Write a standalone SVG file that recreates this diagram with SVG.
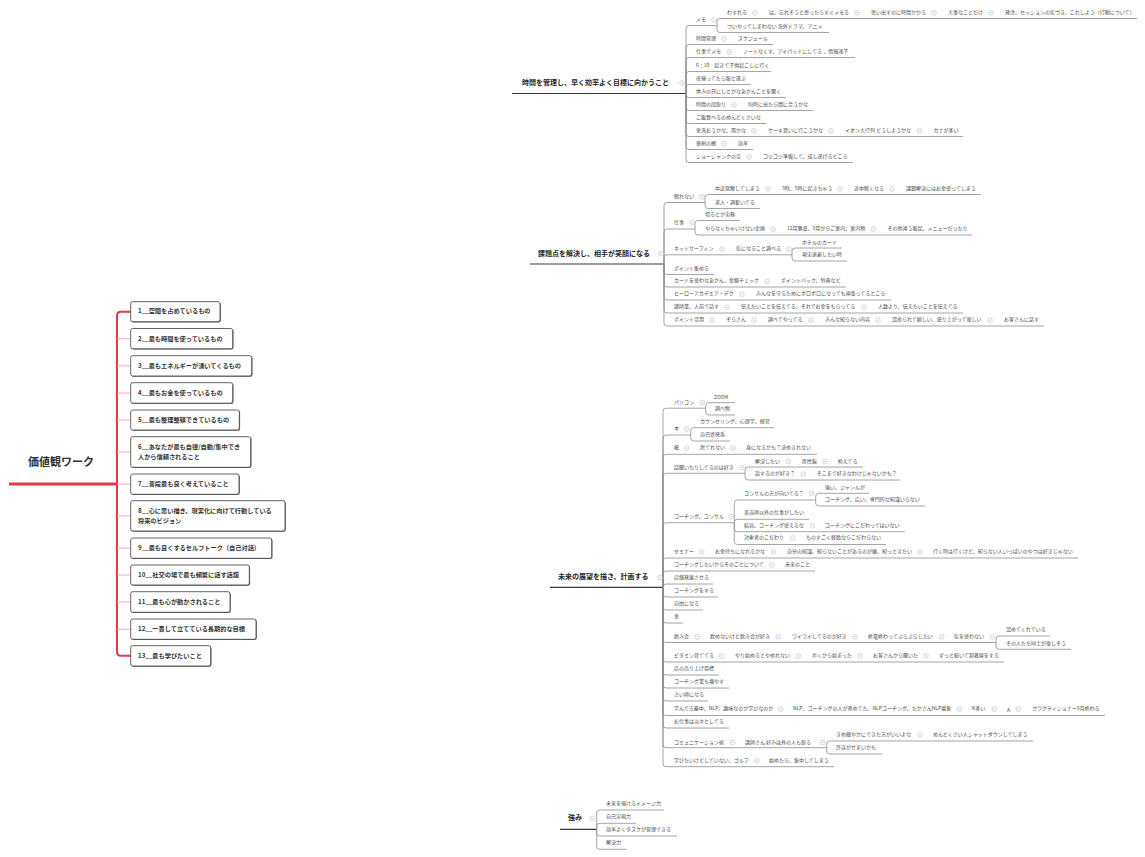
<svg xmlns="http://www.w3.org/2000/svg" width="1145" height="857" viewBox="0 0 1145 857">
<style>
.t{font-family:"Noto Sans CJK JP","Noto Sans",sans-serif;font-size:5px;fill:#4a4a4a}
.r{font-family:"Noto Sans CJK JP","Noto Sans",sans-serif;font-size:7px;font-weight:bold;fill:#262626}
.k{font-family:"Noto Sans CJK JP","Noto Sans",sans-serif;font-size:6.2px;font-weight:bold;fill:#333}
.h{font-family:"Noto Sans CJK JP","Noto Sans",sans-serif;font-size:11px;font-weight:bold;fill:#333}
.ln{fill:none;stroke:#8e8e8e;stroke-width:0.8}
.rl{fill:none;stroke:#3a3a3a;stroke-width:1.2}
.red{fill:none;stroke:#e8364e}
.pk{fill:none;stroke:#f3a2ad;stroke-width:0.9}
.box{fill:#fff;stroke:#3c3c3c;stroke-width:0.8}
.sh{fill:#6a6a6a}
</style>
<defs>
<g id="m"><circle r="2.4" fill="#fff" stroke="#a3b2c9" stroke-width="0.5"/><line x1="-1.2" y1="0" x2="1.2" y2="0" stroke="#a3b2c9" stroke-width="0.5"/></g>
</defs>
<rect width="1145" height="857" fill="#fff"/>

<g id="connectors">
<!-- section 1 -->
<path class="rl" d="M512 93.5H686"/>
<path class="ln" d="M686 93.5V28.5Q686 25.5 689 25.5H717"/>
<path class="ln" d="M717 25.5V21.5Q717 18.5 720 18.5H1137"/>
<path class="ln" d="M717 25.5V29.5Q717 32.5 720 32.5H829"/>
<path class="ln" d="M686 93.5V47.5Q686 44.5 689 44.5H773"/>
<path class="ln" d="M686 93.5V60.5Q686 57.5 689 57.5H855"/>
<path class="ln" d="M686 93.5V74.5Q686 71.5 689 71.5H771"/>
<path class="ln" d="M686 93.5V87.5Q686 84.5 689 84.5H751"/>
<path class="ln" d="M686 93.5V94.5Q686 97.5 689 97.5H786"/>
<path class="ln" d="M686 93.5V107.5Q686 110.5 689 110.5H813"/>
<path class="ln" d="M686 93.5V120.5Q686 123.5 689 123.5H766"/>
<path class="ln" d="M686 93.5V133.5Q686 136.5 689 136.5H963"/>
<path class="ln" d="M686 93.5V146.5Q686 149.5 689 149.5H753"/>
<path class="ln" d="M686 93.5V159.5Q686 162.5 689 162.5H853"/>
<!-- section 2 -->
<path class="rl" d="M530 264H664"/>
<path class="ln" d="M664 264V205.5Q664 202.5 667 202.5H705"/>
<path class="ln" d="M705 202.5V197.5Q705 194.5 708 194.5H981"/>
<path class="ln" d="M705 202.5V205.5Q705 208.5 708 208.5H760"/>
<path class="ln" d="M664 264V232Q664 229 667 229H695"/>
<path class="ln" d="M695 229V223.5Q695 220.5 698 220.5H740"/>
<path class="ln" d="M695 229V232Q695 235 698 235H972"/>
<path class="ln" d="M664 264V257.8Q664 254.8 667 254.8H792"/>
<path class="ln" d="M792 254.8V251Q792 248 795 248H842"/>
<path class="ln" d="M792 254.8V258Q792 261 795 261H847"/>
<path class="ln" d="M664 264V271.5Q664 274.5 667 274.5H714"/>
<path class="ln" d="M664 264V284Q664 287 667 287H846"/>
<path class="ln" d="M664 264V297Q664 300 667 300H891"/>
<path class="ln" d="M664 264V310Q664 313 667 313H963"/>
<path class="ln" d="M664 264V323Q664 326 667 326H1044"/>
<!-- section 3 -->
<path class="rl" d="M550 587.3H663"/>
<path class="ln" d="M663 587.3V411.2Q663 408.2 666 408.2H705.7"/>
<path class="ln" d="M705.7 408.2V405.7Q705.7 402.7 708.7 402.7H735"/>
<path class="ln" d="M705.7 408.2V412Q705.7 415 708.7 415H735"/>
<path class="ln" d="M663 587.3V438Q663 435 666 435H690.7"/>
<path class="ln" d="M690.7 435V430.7Q690.7 427.7 693.7 427.7H774"/>
<path class="ln" d="M690.7 435V438Q690.7 441 693.7 441H730"/>
<path class="ln" d="M663 587.3V457.3Q663 454.3 666 454.3H817"/>
<path class="ln" d="M663 587.3V476.3Q663 473.3 666 473.3H745"/>
<path class="ln" d="M745 473.3V470Q745 467 748 467H863"/>
<path class="ln" d="M745 473.3V477Q745 480 748 480H900"/>
<path class="ln" d="M663 587.3V525.7Q663 522.7 666 522.7H734.3"/>
<path class="ln" d="M734.3 522.7V503Q734.3 500 737.3 500H815.7"/>
<path class="ln" d="M815.7 500V496.3Q815.7 493.3 818.7 493.3H869"/>
<path class="ln" d="M815.7 500V503Q815.7 506 818.7 506H925"/>
<path class="ln" d="M734.3 522.7V522.3Q734.3 519.3 737.3 519.3H809"/>
<path class="ln" d="M734.3 522.7V528.7Q734.3 531.7 737.3 531.7H905"/>
<path class="ln" d="M734.3 522.7V541.5Q734.3 544.5 737.3 544.5H886"/>
<path class="ln" d="M663 587.3V561Q663 558 666 558H1078"/>
<path class="ln" d="M663 587.3V574Q663 571 666 571H815"/>
<path class="ln" d="M663 587.3V587Q663 584 666 584H713"/>
<path class="ln" d="M663 587.3V594Q663 597 666 597H718"/>
<path class="ln" d="M663 587.3V607Q663 610 666 610H703"/>
<path class="ln" d="M663 587.3V620Q663 623 666 623H683"/>
<path class="ln" d="M663 587.3V639.5Q663 642.5 666 642.5H996"/>
<path class="ln" d="M996 642.5V639Q996 636 999 636H1050"/>
<path class="ln" d="M996 642.5V646.3Q996 649.3 999 649.3H1071"/>
<path class="ln" d="M663 587.3V659Q663 662 666 662H1004"/>
<path class="ln" d="M663 587.3V672Q663 675 666 675H719"/>
<path class="ln" d="M663 587.3V685Q663 688 666 688H729"/>
<path class="ln" d="M663 587.3V698Q663 701 666 701H708"/>
<path class="ln" d="M663 587.3V712.5Q663 715.5 666 715.5H1105"/>
<path class="ln" d="M663 587.3V725Q663 728 666 728H729"/>
<path class="ln" d="M663 587.3V744.7Q663 747.7 666 747.7H826.7"/>
<path class="ln" d="M826.7 747.7V744Q826.7 741 829.7 741H1033"/>
<path class="ln" d="M826.7 747.7V751Q826.7 754 829.7 754H882"/>
<path class="ln" d="M663 587.3V763.7Q663 766.7 666 766.7H834"/>
<!-- section 4 -->
<path class="rl" d="M560 829.3H596.7"/>
<path class="ln" d="M596.7 829.3V813Q596.7 810 599.7 810H664"/>
<path class="ln" d="M596.7 829.3V826.3Q596.7 823.3 599.7 823.3H636"/>
<path class="ln" d="M596.7 829.3V833Q596.7 836 599.7 836H677"/>
<path class="ln" d="M596.7 829.3V846.3Q596.7 849.3 599.7 849.3H627"/>
<!-- left panel -->
<path class="red" stroke-width="3.2" d="M9 484H117"/>
<path class="red" stroke-width="2" d="M130.7 311.7H121Q117 311.7 117 315.7V651.8Q117 655.8 121 655.8H130.7"/>
<path class="pk" d="M117 338.7H130.7M117 365.8H130.7M117 393H130.7M117 420H130.7M117 452H130.7M117 484.2H130.7M117 515.8H130.7M117 548.2H130.7M117 575H130.7M117 602H130.7M117 629.2H130.7"/>
</g>

<!-- left panel nodes -->
<g id="values-root"><text class="h" x="28" y="466">価値観ワーク</text></g>
<g id="v1"><rect class="sh" x="131.5" y="302.5" width="89.3" height="20" rx="2"/><rect class="box" x="130.7" y="301.7" width="89.3" height="20" rx="2"/><text class="k" x="138" y="313.4">1__空間を占めているもの</text></g>
<g id="v2"><rect class="sh" x="131.5" y="329.3" width="102" height="20.3" rx="2"/><rect class="box" x="130.7" y="328.5" width="102" height="20.3" rx="2"/><text class="k" x="138" y="340.7">2__最も時間を使っているもの</text></g>
<g id="v3"><rect class="sh" x="131.5" y="356.5" width="121" height="20.3" rx="2"/><rect class="box" x="130.7" y="355.7" width="121" height="20.3" rx="2"/><text class="k" x="138" y="367.7">3__最もエネルギーが湧いてくるもの</text></g>
<g id="v4"><rect class="sh" x="131.5" y="383.5" width="102" height="20.5" rx="2"/><rect class="box" x="130.7" y="382.7" width="102" height="20.5" rx="2"/><text class="k" x="138" y="394.7">4__最もお金を使っているもの</text></g>
<g id="v5"><rect class="sh" x="131.5" y="410.8" width="108.6" height="20" rx="2"/><rect class="box" x="130.7" y="410" width="108.6" height="20" rx="2"/><text class="k" x="138" y="421.7">5__最も整理整頓できているもの</text></g>
<g id="v6"><rect class="sh" x="131.5" y="437.5" width="120" height="30.6" rx="2"/><rect class="box" x="130.7" y="436.7" width="120" height="30.6" rx="2"/><text class="k" x="138" y="449.1">6__あなたが最も自律/自動/集中でき</text><text class="k" x="138" y="459.1">人から信頼されること</text></g>
<g id="v7"><rect class="sh" x="131.5" y="474.8" width="108.3" height="20.3" rx="2"/><rect class="box" x="130.7" y="474" width="108.3" height="20.3" rx="2"/><text class="k" x="138" y="485.7">7__普段最も良く考えていること</text></g>
<g id="v8"><rect class="sh" x="131.5" y="501.5" width="154.3" height="30.3" rx="2"/><rect class="box" x="130.7" y="500.7" width="154.3" height="30.3" rx="2"/><text class="k" x="138" y="513.1">8__心に思い描き、現実化に向けて行動している</text><text class="k" x="138" y="523.4">将来のビジョン</text></g>
<g id="v9"><rect class="sh" x="131.5" y="538.8" width="141" height="20.3" rx="2"/><rect class="box" x="130.7" y="538" width="141" height="20.3" rx="2"/><text class="k" x="138" y="549.7">9__最も良くするセルフトーク（自己対話）</text></g>
<g id="v10"><rect class="sh" x="131.5" y="565.8" width="118.6" height="20" rx="2"/><rect class="box" x="130.7" y="565" width="118.6" height="20" rx="2"/><text class="k" x="138" y="576.7">10__社交の場で最も頻繁に話す話題</text></g>
<g id="v11"><rect class="sh" x="131.5" y="592.5" width="99.3" height="20.6" rx="2"/><rect class="box" x="130.7" y="591.7" width="99.3" height="20.6" rx="2"/><text class="k" x="138" y="603.7">11__最も心が動かされること</text></g>
<g id="v12"><rect class="sh" x="131.5" y="619.8" width="125.3" height="20.3" rx="2"/><rect class="box" x="130.7" y="619" width="125.3" height="20.3" rx="2"/><text class="k" x="138" y="630.7">12__一貫して立てている長期的な目標</text></g>
<g id="v13"><rect class="sh" x="131.5" y="646.5" width="80" height="20.3" rx="2"/><rect class="box" x="130.7" y="645.7" width="80" height="20.3" rx="2"/><text class="k" x="138" y="658.1">13__最も学びたいこと</text></g>

<!-- section 1 -->
<g id="s1-root"><text class="r" x="522" y="84.6">時間を管理し、早く効率よく目標に向かうこと</text><use href="#m" x="682" y="83"/></g>
<g id="s1-memo"><text class="t" x="696" y="20.9">メモ</text><use href="#m" x="714" y="19.8"/></g>
<g id="s1-memo-a"><text class="t" x="727" y="13.9">わすれる</text><use href="#m" x="755" y="12.8"/></g>
<g id="s1-memo-a1"><text class="t" x="769" y="13.9">は、忘れそうと思ったらすぐメモる</text><use href="#m" x="857" y="12.8"/></g>
<g id="s1-memo-a2"><text class="t" x="871" y="13.9">思い出すのに時間かかる</text><use href="#m" x="934" y="12.8"/></g>
<g id="s1-memo-a3"><text class="t" x="948" y="13.9">大事なことだけ</text><use href="#m" x="991" y="12.8"/></g>
<g id="s1-memo-a4"><text class="t" x="1005" y="13.9">発注、セッションの気づき、これしよう（行動について）</text></g>
<g id="s1-memo-b"><text class="t" x="727" y="27.9">ついやってしまわない 海外ドラマ、アニメ</text></g>
<g id="s1-time"><text class="t" x="696" y="39.9">時間管理</text><use href="#m" x="724" y="38.8"/></g>
<g id="s1-time-1"><text class="t" x="738" y="39.9">スケジュール</text></g>
<g id="s1-work"><text class="t" x="696" y="52.9">仕事でメモ</text><use href="#m" x="729" y="51.8"/></g>
<g id="s1-work-1"><text class="t" x="743" y="52.9">ノートなくす、アイパッドにしてる 、情報迷子</text></g>
<g id="s1-610"><text class="t" x="696" y="66.9">6：10　起きて子供起こしに行く</text></g>
<g id="s1-night"><text class="t" x="696" y="79.9">夜帰ってたら服と選ぶ</text></g>
<g id="s1-holiday"><text class="t" x="696" y="92.9">休みの日にしとかなあかんことを聞く</text></g>
<g id="s1-plan"><text class="t" x="696" y="105.9">時間の段取り</text><use href="#m" x="734" y="104.8"/></g>
<g id="s1-plan-1"><text class="t" x="748" y="105.9">何時に出たら間に合うかな</text></g>
<g id="s1-meal"><text class="t" x="696" y="118.9">ご飯食べるのめんどくさいな</text></g>
<g id="s1-car"><text class="t" x="696" y="131.9">車洗おうかな、雨かな</text><use href="#m" x="754" y="130.8"/></g>
<g id="s1-car-1"><text class="t" x="768" y="131.9">ケーキ買いに行こうかな</text><use href="#m" x="831" y="130.8"/></g>
<g id="s1-car-2"><text class="t" x="845" y="131.9">イオン大行列 どうしようかな</text><use href="#m" x="919.5" y="130.8"/></g>
<g id="s1-car-3"><text class="t" x="933.5" y="131.9">カナが多い</text></g>
<g id="s1-shelf"><text class="t" x="696" y="144.9">薬剤の棚</text><use href="#m" x="724" y="143.8"/></g>
<g id="s1-shelf-1"><text class="t" x="738" y="144.9">効率</text></g>
<g id="s1-shaw"><text class="t" x="696" y="157.9">ショーシャンクの空</text><use href="#m" x="749" y="156.8"/></g>
<g id="s1-shaw-1"><text class="t" x="763" y="157.9">コツコツ準備して、成し遂げるところ</text></g>

<!-- section 2 -->
<g id="s2-root"><text class="r" x="538" y="255.6">課題点を解決し、相手が笑顔になる</text><use href="#m" x="661" y="253.5"/></g>
<g id="s2-sleep"><text class="t" x="674" y="197.9">眠れない</text><use href="#m" x="702" y="196.8"/></g>
<g id="s2-sleep-a"><text class="t" x="715" y="189.9">中途覚醒してしまう</text><use href="#m" x="768" y="188.8"/></g>
<g id="s2-sleep-a1"><text class="t" x="782" y="189.9">3時、5時に起きちゃう</text><use href="#m" x="840" y="188.8"/></g>
<g id="s2-sleep-a2"><text class="t" x="854" y="189.9">途中眠くなる</text><use href="#m" x="892" y="188.8"/></g>
<g id="s2-sleep-a3"><text class="t" x="906" y="189.9">課題解決にはお金使ってしまう</text></g>
<g id="s2-sleep-b"><text class="t" x="715" y="203.9">求人・調髪いてる</text></g>
<g id="s2-job"><text class="t" x="674" y="223.9">仕事</text><use href="#m" x="692" y="222.8"/></g>
<g id="s2-job-a"><text class="t" x="705" y="215.9">切るとか実務</text></g>
<g id="s2-job-b"><text class="t" x="705" y="230.4">やらなくちゃいけない企画</text><use href="#m" x="773" y="229.3"/></g>
<g id="s2-job-b1"><text class="t" x="787" y="230.4">12月繁盛、9月からご案内、案内物</text><use href="#m" x="873.4" y="229.3"/></g>
<g id="s2-job-b2"><text class="t" x="887.4" y="230.4">その他違う販促、メニューだったり</text></g>
<g id="s2-net"><text class="t" x="674" y="250.2">ネットサーフィン</text><use href="#m" x="722" y="249.1"/></g>
<g id="s2-net-1"><text class="t" x="736" y="250.2">気になること調べる</text><use href="#m" x="789" y="249.1"/></g>
<g id="s2-net-1a"><text class="t" x="802" y="243.6">ホテルのカード</text></g>
<g id="s2-net-1b"><text class="t" x="802" y="255.9">現実逃避したい時</text></g>
<g id="s2-points"><text class="t" x="674" y="269.9">ポイント集める</text></g>
<g id="s2-card"><text class="t" x="674" y="282.4">カードを使わなあかん、金額チェック</text><use href="#m" x="767" y="281.3"/></g>
<g id="s2-card-1"><text class="t" x="781" y="282.4">ポイントバック、特典など</text></g>
<g id="s2-hero"><text class="t" x="674" y="295.2">ヒーローアカデミア・デク</text><use href="#m" x="742" y="294.1"/></g>
<g id="s2-hero-1"><text class="t" x="756" y="295.2">みんなを守るためにボロボロになっても頑張ってるところ</text></g>
<g id="s2-lect"><text class="t" x="674" y="308.4">講師業、人前で話す</text><use href="#m" x="727" y="307.3"/></g>
<g id="s2-lect-1"><text class="t" x="741" y="308.4">伝えたいことを伝えてる、それでお金をもらってる</text><use href="#m" x="864" y="307.3"/></g>
<g id="s2-lect-2"><text class="t" x="878" y="308.4">人数より、伝えたいことを伝えてる</text></g>
<g id="s2-use"><text class="t" x="674" y="321.4">ポイント活用</text><use href="#m" x="712" y="320.3"/></g>
<g id="s2-use-1"><text class="t" x="726" y="321.4">そらさん</text><use href="#m" x="754" y="320.3"/></g>
<g id="s2-use-2"><text class="t" x="768" y="321.4">調べてやってる</text><use href="#m" x="811" y="320.3"/></g>
<g id="s2-use-3"><text class="t" x="825" y="321.4">みんな知らない内容</text><use href="#m" x="878" y="320.3"/></g>
<g id="s2-use-4"><text class="t" x="892" y="321.4">認められて嬉しい、盛り上がって楽しい</text><use href="#m" x="990" y="320.3"/></g>
<g id="s2-use-5"><text class="t" x="1004" y="321.4">お客さんに話す</text></g>

<!-- section 3 -->
<g id="s3-root"><text class="r" x="558" y="578.6">未来の展望を描き、計画する</text><use href="#m" x="660" y="577.5"/></g>
<g id="s3-pc"><text class="t" x="674" y="403.6">パソコン</text><use href="#m" x="702.3" y="402.5"/></g>
<g id="s3-pc-a"><text class="t" x="714" y="398.6">ZOOM</text></g>
<g id="s3-pc-b"><text class="t" x="715" y="410.2">調べ物</text></g>
<g id="s3-book"><text class="t" x="674" y="430.2">本</text><use href="#m" x="686.7" y="429.1"/></g>
<g id="s3-book-a"><text class="t" x="700" y="422.9">カウンセリング、心理学、経営</text></g>
<g id="s3-book-b"><text class="t" x="700" y="436.2">自己啓発系</text></g>
<g id="s3-paper"><text class="t" x="674" y="449.2">紙</text><use href="#m" x="686.7" y="448.1"/></g>
<g id="s3-paper-1"><text class="t" x="700" y="449.2">捨てれない</text><use href="#m" x="733" y="448.1"/></g>
<g id="s3-paper-2"><text class="t" x="746" y="449.2">身になるかも？決めきれない</text></g>
<g id="s3-listen"><text class="t" x="674" y="468.6">話聞いたりしてるのは好き</text><use href="#m" x="741.7" y="467.5"/></g>
<g id="s3-listen-a"><text class="t" x="755" y="462.6">解決したい</text><use href="#m" x="788.3" y="461.5"/></g>
<g id="s3-listen-a1"><text class="t" x="801.7" y="462.6">男性脳</text><use href="#m" x="825" y="461.5"/></g>
<g id="s3-listen-a2"><text class="t" x="837.7" y="462.6">抑えてる</text></g>
<g id="s3-listen-b"><text class="t" x="755" y="475.2">話するのが好き？</text><use href="#m" x="803.3" y="474.1"/></g>
<g id="s3-listen-b1"><text class="t" x="816.7" y="475.2">そこまで好きなわけじゃないかも？</text></g>
<g id="s3-coach"><text class="t" x="674" y="517.6">コーチング、コンサル</text><use href="#m" x="731" y="516.5"/></g>
<g id="s3-coach-a"><text class="t" x="744" y="494.6">コンサルの方が向いてる？</text><use href="#m" x="811.7" y="493.5"/></g>
<g id="s3-coach-a1"><text class="t" x="825" y="488.6">強い、ジャンルが</text></g>
<g id="s3-coach-a2"><text class="t" x="825" y="500.9">コーチング、広い、専門的な知識いらない</text></g>
<g id="s3-coach-b"><text class="t" x="744" y="513.6">美容師以外の仕事がしたい</text></g>
<g id="s3-coach-c"><text class="t" x="744" y="526.9">結局、コーチング使えるな</text><use href="#m" x="812.3" y="525.8"/></g>
<g id="s3-coach-c1"><text class="t" x="825" y="526.9">コーチングにこだわってはいない</text></g>
<g id="s3-coach-d"><text class="t" x="744" y="539.2">対象者のこだわり</text><use href="#m" x="792.7" y="538.1"/></g>
<g id="s3-coach-d1"><text class="t" x="806" y="539.2">ものすごく軽微ならこだわらない</text></g>
<g id="s3-sem"><text class="t" x="674" y="552.9">セミナー</text><use href="#m" x="701.7" y="551.8"/></g>
<g id="s3-sem-1"><text class="t" x="715" y="552.9">お金持ちになれるかな</text><use href="#m" x="773.3" y="551.8"/></g>
<g id="s3-sem-2"><text class="t" x="787" y="552.9">自分の知識、知らないことがあるのが嫌、知っときたい</text><use href="#m" x="920" y="551.8"/></g>
<g id="s3-sem-3"><text class="t" x="933" y="552.9">行く時は行くけど、知らない人いっぱいのやつは好きじゃない</text></g>
<g id="s3-cw"><text class="t" x="674" y="565.9">コーチングしたいからそのことについて</text><use href="#m" x="771.7" y="564.8"/></g>
<g id="s3-cw-1"><text class="t" x="785" y="565.9">未来のこと</text></g>
<g id="s3-shop"><text class="t" x="674" y="579.2">店舗発展させる</text></g>
<g id="s3-docoach"><text class="t" x="674" y="592.2">コーチングをする</text></g>
<g id="s3-free"><text class="t" x="674" y="605.2">自由になる</text></g>
<g id="s3-car"><text class="t" x="674" y="617.9">車</text></g>
<g id="s3-drink"><text class="t" x="674" y="637.9">飲み会</text><use href="#m" x="697.3" y="636.8"/></g>
<g id="s3-drink-1"><text class="t" x="710" y="637.9">飲めないけど飲み会が好き</text><use href="#m" x="778.3" y="636.8"/></g>
<g id="s3-drink-2"><text class="t" x="792" y="637.9">ワイワイしてるのが好き</text><use href="#m" x="855" y="636.8"/></g>
<g id="s3-drink-3"><text class="t" x="868" y="637.9">終電終わってぶらぶらしたい</text><use href="#m" x="941.7" y="636.8"/></g>
<g id="s3-drink-4"><text class="t" x="954" y="637.9">気を使わない</text><use href="#m" x="992.7" y="636.8"/></g>
<g id="s3-drink-4a"><text class="t" x="1006" y="631.2">認めてくれている</text></g>
<g id="s3-drink-4b"><text class="t" x="1006" y="644.6">その人たち同士が楽しそう</text></g>
<g id="s3-vit"><text class="t" x="674" y="656.9">ビタミン育ててる</text><use href="#m" x="721.7" y="655.8"/></g>
<g id="s3-vit-1"><text class="t" x="735" y="656.9">やり始めるとやめれない</text><use href="#m" x="798.3" y="655.8"/></g>
<g id="s3-vit-2"><text class="t" x="812" y="656.9">歩くから始まった</text><use href="#m" x="860" y="655.8"/></g>
<g id="s3-vit-3"><text class="t" x="873" y="656.9">お客さんから聞いた</text><use href="#m" x="926" y="655.8"/></g>
<g id="s3-vit-4"><text class="t" x="939" y="656.9">ずっと続いて割箸線をする</text></g>
<g id="s3-sales"><text class="t" x="674" y="669.6">店の売り上げ目標</text></g>
<g id="s3-more"><text class="t" x="674" y="682.9">コーチング業も増やす</text></g>
<g id="s3-fort"><text class="t" x="674" y="695.9">占い師になる</text></g>
<g id="s3-nlp"><text class="t" x="674" y="710.2">学んでる最中、NLP、趣味なのか学びなのか</text><use href="#m" x="780.7" y="709.1"/></g>
<g id="s3-nlp-1"><text class="t" x="793" y="710.2">NLP、コーチングの人が進めてた、NLPコーチング、たかさんNLP募集</text><use href="#m" x="959.3" y="709.1"/></g>
<g id="s3-nlp-2"><text class="t" x="972" y="710.2">K多い</text><use href="#m" x="994.3" y="709.1"/></g>
<g id="s3-nlp-3"><text class="t" x="1007" y="712">A</text><use href="#m" x="1018.3" y="709.1"/></g>
<g id="s3-nlp-4"><text class="t" x="1032" y="710.2">プラクティショナー9月終わる</text></g>
<g id="s3-work"><text class="t" x="674" y="722.9">お仕事は淡々としてる</text></g>
<g id="s3-comm"><text class="t" x="674" y="743.6">コミュニケーション術</text><use href="#m" x="732.7" y="742.5"/></g>
<g id="s3-comm-1"><text class="t" x="745" y="743.6">講師さん 好みは外の人も取る</text><use href="#m" x="822.7" y="742.5"/></g>
<g id="s3-comm-1a"><text class="t" x="836" y="736.2">きめ細やかにできた方がいいよな</text><use href="#m" x="920" y="735.1"/></g>
<g id="s3-comm-1a1"><text class="t" x="933" y="736.2">めんどくさい人シャットダウンしてしまう</text></g>
<g id="s3-comm-1b"><text class="t" x="836" y="749.2">許容がせまいかも</text></g>
<g id="s3-golf"><text class="t" x="674" y="761.9">学びたいけどしていない、ゴルフ</text><use href="#m" x="756.7" y="760.8"/></g>
<g id="s3-golf-1"><text class="t" x="769" y="761.9">始めたら、集中してしまう</text></g>

<!-- section 4 -->
<g id="s4-root"><text class="r" x="568" y="819.9">強み</text><use href="#m" x="592.3" y="818.5"/></g>
<g id="s4-1"><text class="t" x="606" y="804.6">未来を描けるイメージ力</text></g>
<g id="s4-2"><text class="t" x="606" y="817.6">自己実現力</text></g>
<g id="s4-3"><text class="t" x="606" y="830.6">効率よくタスクが管理できる</text></g>
<g id="s4-4"><text class="t" x="606" y="843.6">解決力</text></g>
</svg>
